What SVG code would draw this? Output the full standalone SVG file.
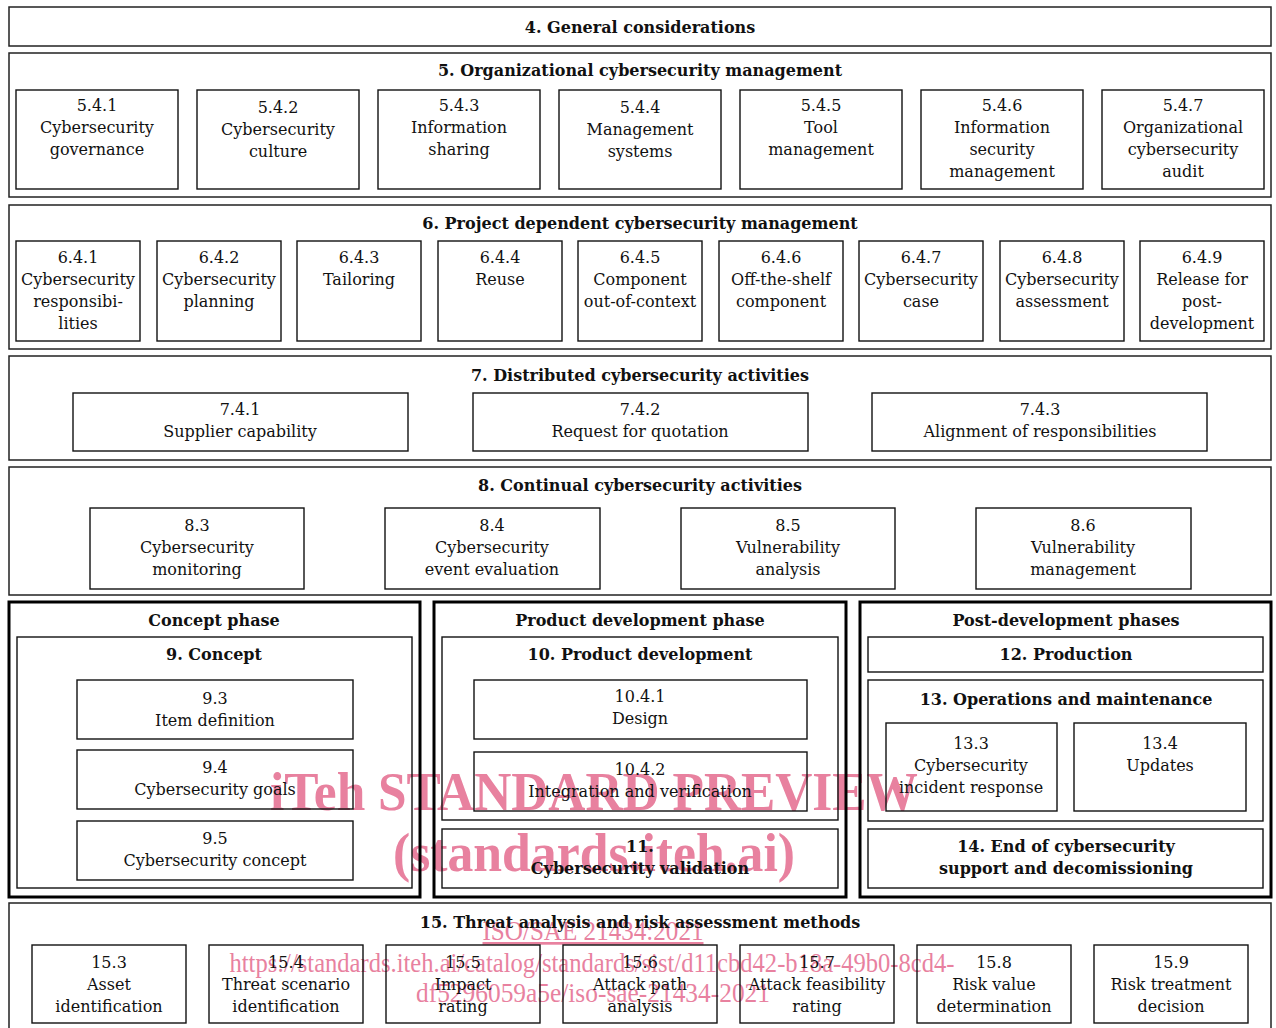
<svg xmlns="http://www.w3.org/2000/svg" width="1276" height="1028" viewBox="0 0 1276 1028">
<style>
.sec{fill:none;stroke:#222;stroke-width:1.5}
.box{fill:none;stroke:#111;stroke-width:1.4}
.ph{fill:none;stroke:#000;stroke-width:3}
text{font-family:"DejaVu Serif","Liberation Serif",serif;fill:#111;text-anchor:middle}
.t{font-size:16px}
.b{font-size:16px;font-weight:bold}
.wm{font-family:"Liberation Serif",serif;fill:#e8819f}
</style>
<rect width="1276" height="1028" fill="#fff"/>

<g id="watermark">
<text class="wm" x="594" y="810" font-size="54" font-weight="bold" textLength="648" lengthAdjust="spacingAndGlyphs">iTeh STANDARD PREVIEW</text>
<text class="wm" x="594" y="871" font-size="54" font-weight="bold" textLength="402" lengthAdjust="spacingAndGlyphs">(standards.iteh.ai)</text>
<text class="wm" x="593" y="940" font-size="27" text-decoration="underline" textLength="221" lengthAdjust="spacingAndGlyphs">ISO/SAE 21434:2021</text>
<text class="wm" x="592" y="972" font-size="27" textLength="725" lengthAdjust="spacingAndGlyphs">https://standards.iteh.ai/catalog/standards/sist/d11cbd42-b18a-49b0-8cd4-</text>
<text class="wm" x="593" y="1002" font-size="27" textLength="354" lengthAdjust="spacingAndGlyphs">df5296059a5e/iso-sae-21434-2021</text>
</g>

<g id="sec4"><rect class="sec" x="9" y="7" width="1262" height="39"/><text class="b" x="640" y="33">4. General considerations</text></g>

<g id="sec5"><rect class="sec" x="9" y="53" width="1262" height="144"/><text class="b" x="640" y="76">5. Organizational cybersecurity management</text></g>
<g id="n541"><rect class="box" x="16" y="90" width="162" height="99"/><text class="t" x="97" y="111">5.4.1<tspan x="97" dy="22">Cybersecurity</tspan><tspan x="97" dy="22">governance</tspan></text></g>
<g id="n542"><rect class="box" x="197" y="90" width="162" height="99"/><text class="t" x="278" y="113">5.4.2<tspan x="278" dy="22">Cybersecurity</tspan><tspan x="278" dy="22">culture</tspan></text></g>
<g id="n543"><rect class="box" x="378" y="90" width="162" height="99"/><text class="t" x="459" y="111">5.4.3<tspan x="459" dy="22">Information</tspan><tspan x="459" dy="22">sharing</tspan></text></g>
<g id="n544"><rect class="box" x="559" y="90" width="162" height="99"/><text class="t" x="640" y="113">5.4.4<tspan x="640" dy="22">Management</tspan><tspan x="640" dy="22">systems</tspan></text></g>
<g id="n545"><rect class="box" x="740" y="90" width="162" height="99"/><text class="t" x="821" y="111">5.4.5<tspan x="821" dy="22">Tool</tspan><tspan x="821" dy="22">management</tspan></text></g>
<g id="n546"><rect class="box" x="921" y="90" width="162" height="99"/><text class="t" x="1002" y="111">5.4.6<tspan x="1002" dy="22">Information</tspan><tspan x="1002" dy="22">security</tspan><tspan x="1002" dy="22">management</tspan></text></g>
<g id="n547"><rect class="box" x="1102" y="90" width="162" height="99"/><text class="t" x="1183" y="111">5.4.7<tspan x="1183" dy="22">Organizational</tspan><tspan x="1183" dy="22">cybersecurity</tspan><tspan x="1183" dy="22">audit</tspan></text></g>

<g id="sec6"><rect class="sec" x="9" y="205" width="1262" height="144"/><text class="b" x="640" y="229">6. Project dependent cybersecurity management</text></g>
<g id="n641"><rect class="box" x="16" y="241" width="124" height="100"/><text class="t" x="78" y="263">6.4.1<tspan x="78" dy="22">Cybersecurity</tspan><tspan x="78" dy="22">responsibi-</tspan><tspan x="78" dy="22">lities</tspan></text></g>
<g id="n642"><rect class="box" x="157" y="241" width="124" height="100"/><text class="t" x="219" y="263">6.4.2<tspan x="219" dy="22">Cybersecurity</tspan><tspan x="219" dy="22">planning</tspan></text></g>
<g id="n643"><rect class="box" x="297" y="241" width="124" height="100"/><text class="t" x="359" y="263">6.4.3<tspan x="359" dy="22">Tailoring</tspan></text></g>
<g id="n644"><rect class="box" x="438" y="241" width="124" height="100"/><text class="t" x="500" y="263">6.4.4<tspan x="500" dy="22">Reuse</tspan></text></g>
<g id="n645"><rect class="box" x="578" y="241" width="124" height="100"/><text class="t" x="640" y="263">6.4.5<tspan x="640" dy="22">Component</tspan><tspan x="640" dy="22">out-of-context</tspan></text></g>
<g id="n646"><rect class="box" x="719" y="241" width="124" height="100"/><text class="t" x="781" y="263">6.4.6<tspan x="781" dy="22">Off-the-shelf</tspan><tspan x="781" dy="22">component</tspan></text></g>
<g id="n647"><rect class="box" x="859" y="241" width="124" height="100"/><text class="t" x="921" y="263">6.4.7<tspan x="921" dy="22">Cybersecurity</tspan><tspan x="921" dy="22">case</tspan></text></g>
<g id="n648"><rect class="box" x="1000" y="241" width="124" height="100"/><text class="t" x="1062" y="263">6.4.8<tspan x="1062" dy="22">Cybersecurity</tspan><tspan x="1062" dy="22">assessment</tspan></text></g>
<g id="n649"><rect class="box" x="1140" y="241" width="124" height="100"/><text class="t" x="1202" y="263">6.4.9<tspan x="1202" dy="22">Release for</tspan><tspan x="1202" dy="22">post-</tspan><tspan x="1202" dy="22">development</tspan></text></g>

<g id="sec7"><rect class="sec" x="9" y="356" width="1262" height="104"/><text class="b" x="640" y="381">7. Distributed cybersecurity activities</text></g>
<g id="n741"><rect class="box" x="73" y="393" width="335" height="58"/><text class="t" x="240" y="415">7.4.1<tspan x="240" dy="22">Supplier capability</tspan></text></g>
<g id="n742"><rect class="box" x="473" y="393" width="335" height="58"/><text class="t" x="640" y="415">7.4.2<tspan x="640" dy="22">Request for quotation</tspan></text></g>
<g id="n743"><rect class="box" x="872" y="393" width="335" height="58"/><text class="t" x="1040" y="415">7.4.3<tspan x="1040" dy="22">Alignment of responsibilities</tspan></text></g>

<g id="sec8"><rect class="sec" x="9" y="467" width="1262" height="128"/><text class="b" x="640" y="491">8. Continual cybersecurity activities</text></g>
<g id="n83"><rect class="box" x="90" y="508" width="214" height="81"/><text class="t" x="197" y="531">8.3<tspan x="197" dy="22">Cybersecurity</tspan><tspan x="197" dy="22">monitoring</tspan></text></g>
<g id="n84"><rect class="box" x="385" y="508" width="215" height="81"/><text class="t" x="492" y="531">8.4<tspan x="492" dy="22">Cybersecurity</tspan><tspan x="492" dy="22">event evaluation</tspan></text></g>
<g id="n85"><rect class="box" x="681" y="508" width="214" height="81"/><text class="t" x="788" y="531">8.5<tspan x="788" dy="22">Vulnerability</tspan><tspan x="788" dy="22">analysis</tspan></text></g>
<g id="n86"><rect class="box" x="976" y="508" width="215" height="81"/><text class="t" x="1083" y="531">8.6<tspan x="1083" dy="22">Vulnerability</tspan><tspan x="1083" dy="22">management</tspan></text></g>

<g id="concept-phase"><rect class="ph" x="9" y="602" width="411" height="295"/><text class="b" x="214" y="626">Concept phase</text></g>
<g id="sec9"><rect class="box" x="17" y="637" width="395" height="251"/><text class="b" x="214" y="660">9. Concept</text></g>
<g id="n93"><rect class="box" x="77" y="680" width="276" height="59"/><text class="t" x="215" y="704">9.3<tspan x="215" dy="22">Item definition</tspan></text></g>
<g id="n94"><rect class="box" x="77" y="750" width="276" height="59"/><text class="t" x="215" y="773">9.4<tspan x="215" dy="22">Cybersecurity goals</tspan></text></g>
<g id="n95"><rect class="box" x="77" y="821" width="276" height="59"/><text class="t" x="215" y="844">9.5<tspan x="215" dy="22">Cybersecurity concept</tspan></text></g>

<g id="product-phase"><rect class="ph" x="434" y="602" width="412" height="295"/><text class="b" x="640" y="626">Product development phase</text></g>
<g id="sec10"><rect class="box" x="442" y="637" width="396" height="183"/><text class="b" x="640" y="660">10. Product development</text></g>
<g id="n1041"><rect class="box" x="474" y="680" width="333" height="59"/><text class="t" x="640" y="702">10.4.1<tspan x="640" dy="22">Design</tspan></text></g>
<g id="n1042"><rect class="box" x="474" y="752" width="333" height="59"/><text class="t" x="640" y="775">10.4.2<tspan x="640" dy="22">Integration and verification</tspan></text></g>
<g id="sec11"><rect class="box" x="442" y="829" width="396" height="59"/><text class="b" x="640" y="852">11.<tspan x="640" dy="22">Cybersecurity validation</tspan></text></g>

<g id="post-phase"><rect class="ph" x="860" y="602" width="411" height="295"/><text class="b" x="1066" y="626">Post-development phases</text></g>
<g id="sec12"><rect class="box" x="868" y="637" width="395" height="35"/><text class="b" x="1066" y="660">12. Production</text></g>
<g id="sec13"><rect class="box" x="868" y="680" width="395" height="141"/><text class="b" x="1066" y="705">13. Operations and maintenance</text></g>
<g id="n133"><rect class="box" x="886" y="723" width="171" height="88"/><text class="t" x="971" y="749">13.3<tspan x="971" dy="22">Cybersecurity</tspan><tspan x="971" dy="22">incident response</tspan></text></g>
<g id="n134"><rect class="box" x="1074" y="723" width="172" height="88"/><text class="t" x="1160" y="749">13.4<tspan x="1160" dy="22">Updates</tspan></text></g>
<g id="sec14"><rect class="box" x="868" y="829" width="395" height="59"/><text class="b" x="1066" y="852">14. End of cybersecurity<tspan x="1066" dy="22">support and decomissioning</tspan></text></g>

<g id="sec15"><rect class="sec" x="9" y="903" width="1262" height="140"/><text class="b" x="640" y="928">15. Threat analysis and risk assessment methods</text></g>
<g id="n153"><rect class="box" x="32" y="945" width="154" height="78"/><text class="t" x="109" y="968">15.3<tspan x="109" dy="22">Asset</tspan><tspan x="109" dy="22">identification</tspan></text></g>
<g id="n154"><rect class="box" x="209" y="945" width="154" height="78"/><text class="t" x="286" y="968">15.4<tspan x="286" dy="22">Threat scenario</tspan><tspan x="286" dy="22">identification</tspan></text></g>
<g id="n155"><rect class="box" x="386" y="945" width="154" height="78"/><text class="t" x="463" y="968">15.5<tspan x="463" dy="22">Impact</tspan><tspan x="463" dy="22">rating</tspan></text></g>
<g id="n156"><rect class="box" x="563" y="945" width="154" height="78"/><text class="t" x="640" y="968">15.6<tspan x="640" dy="22">Attack path</tspan><tspan x="640" dy="22">analysis</tspan></text></g>
<g id="n157"><rect class="box" x="740" y="945" width="154" height="78"/><text class="t" x="817" y="968">15.7<tspan x="817" dy="22">Attack feasibility</tspan><tspan x="817" dy="22">rating</tspan></text></g>
<g id="n158"><rect class="box" x="917" y="945" width="154" height="78"/><text class="t" x="994" y="968">15.8<tspan x="994" dy="22">Risk value</tspan><tspan x="994" dy="22">determination</tspan></text></g>
<g id="n159"><rect class="box" x="1094" y="945" width="154" height="78"/><text class="t" x="1171" y="968">15.9<tspan x="1171" dy="22">Risk treatment</tspan><tspan x="1171" dy="22">decision</tspan></text></g>

<g id="connectors"></g>
</svg>
